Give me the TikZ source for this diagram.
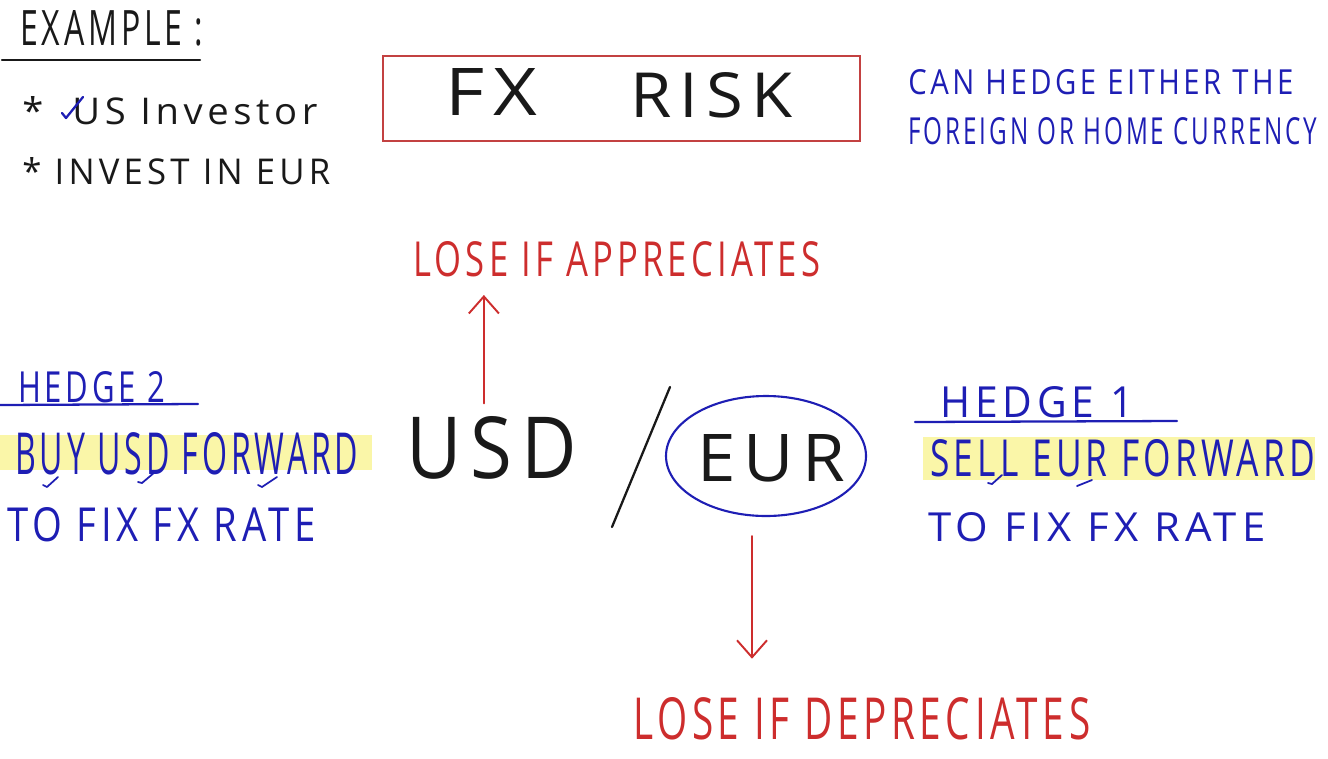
\documentclass[tikz,border=0pt]{standalone}
\usepackage{fontspec}
\setmainfont{Open Sans}[LetterSpace=12]
\usetikzlibrary{arrows.meta, positioning, shapes.geometric}
\definecolor{penblack}{RGB}{25,25,25}
\definecolor{penblue}{RGB}{30,30,180}
\definecolor{penred}{RGB}{205,45,45}
\definecolor{boxred}{RGB}{195,65,65}
\definecolor{marker}{RGB}{250,246,168}
% one pixel of the board
\newdimen\pxu \pxu=0.02cm
% text squeezed to its width and cap height on the board
\newcommand\handtext[3]{\resizebox{#1\pxu}{#2\pxu}{#3}}

\begin{document}
\begin{tikzpicture}[x=0.02cm, y=-0.02cm,
  handnote/.style={inner sep=0pt, anchor=south west},
  blackpen/.style={penblack, line width=1.4pt, line cap=round},
  bluepen/.style={penblue, line width=1.3pt, line cap=round, line join=round},
  redpen/.style={penred, line width=1.1pt, line cap=round},
  riskarrow/.style={redpen, -{Straight Barb[length=3.4mm, width=6mm]}}]
  \useasboundingbox (0,0) rectangle (1328,758);
  % highlighter strokes
  \fill[marker] (0,435) rectangle (372,470);
  \fill[marker] (923,437) rectangle (1315,480);
  % top left: the example
  \node[handnote, penblack] (example) at (20,47) {\handtext{183}{35}{EXAMPLE :}};
  \draw[blackpen] (2,60) -- (200,60);
  \node[handnote, penblack] (usinvestor) at (22,125) {\handtext{295}{28}{*\ \ US Investor}};
  \node[handnote, penblack] (investeur) at (22,185) {\handtext{308}{27}{* INVEST IN EUR}};
  \draw[bluepen] (62,113) -- (66,118) -- (83,97);
  % FX risk box
  \draw[boxred, line width=1.1pt] (383,56) rectangle (860,141);
  \node[handnote, penblack] (fx) at (445,116) {\handtext{92}{47}{FX}};
  \node[handnote, penblack] (risk) at (630,118) {\handtext{162}{45}{RISK}};
  % top right note
  \node[handnote, penblue] (canhedge) at (908,95) {\handtext{385}{25}{CAN HEDGE EITHER THE}};
  \node[handnote, penblue] (foreignhome) at (908,145) {\handtext{409}{27}{FOREIGN OR HOME CURRENCY}};
  % the pair
  \node[handnote, penblack] (usd) at (406,480) {\handtext{171}{62}{USD}};
  \node[handnote, penblack] (eur) at (697,482) {\handtext{148}{47}{EUR}};
  \draw[penblack, line width=1.3pt, line cap=round] (612,527) -- (670,387);
  \node[ellipse, draw=penblue, line width=1.2pt, minimum width=200\pxu, minimum height=120\pxu,
    inner sep=0pt] (eurring) at (766,456) {};
  % losses
  \node[handnote, penred] (appreciates) at (413,277) {\handtext{407}{35}{LOSE IF APPRECIATES}};
  \node[handnote, penred] (depreciates) at (633,740) {\handtext{457}{42}{LOSE IF DEPRECIATES}};
  \draw[riskarrow] ([shift={(-8,-13)}]usd.north) -- ([shift={(-8,18)}]usd.north |- appreciates.south);
  \draw[riskarrow] ([shift={(-14,19)}]eurring.south) -- ([shift={(-14,-38)}]eurring.south |- depreciates.north);
  % hedge 2, left
  \node[handnote, penblue] (hedgetwo) at (18,403) {\handtext{147}{31}{HEDGE 2}};
  \draw[bluepen] (0,405) -- (198,404);
  \node[handnote, penblue] (buyusd) at (15,475) {\handtext{343}{42}{BUY USD FORWARD}};
  \node[handnote, penblue] (fixleft) at (7,542) {\handtext{308}{34}{TO FIX FX RATE}};
  \draw[bluepen, line width=1pt] (43,485) -- (47,487) -- (58,477);
  \draw[bluepen, line width=1pt] (138,482) -- (142,483) -- (155,472);
  \draw[bluepen, line width=1pt] (258,485) -- (262,487) -- (277,477);
  % hedge 1, right
  \node[handnote, penblue] (hedgeone) at (940,418) {\handtext{193}{31}{HEDGE 1}};
  \draw[bluepen] (915,422) -- (1177,421);
  \node[handnote, penblue] (selleur) at (930,477) {\handtext{385}{37}{SELL EUR FORWARD}};
  \node[handnote, penblue] (fixright) at (928,542) {\handtext{337}{29}{TO FIX FX RATE}};
  \draw[bluepen, line width=1pt] (988,483) -- (992,484) -- (1002,475);
  \draw[bluepen, line width=1pt] (1077,486) -- (1092,480);
\end{tikzpicture}
\end{document}
